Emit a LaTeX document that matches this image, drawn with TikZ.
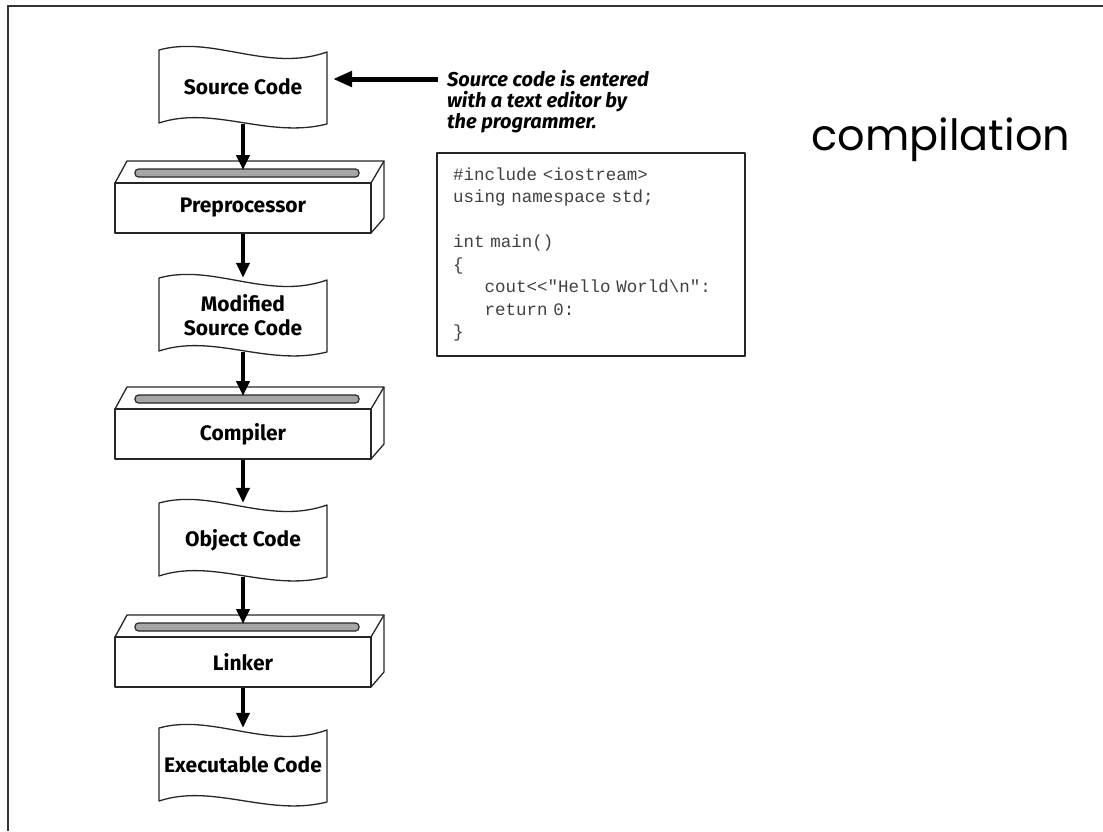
\documentclass[tikz,border=0pt]{standalone}
\usepackage{fontspec}
\usetikzlibrary{arrows.meta}

\newfontfamily\etiqueta{Fira Sans}
\newfontfamily\codigo{Liberation Mono}
\newfontfamily\titulo{Poppins}
\DeclareRobustCommand{\fuentecodigo}{\codigo\fontsize{17.5}{22.5}\selectfont\spaceskip=10.5pt\relax}

\tikzset{
  contorno/.style={draw=black!85, line width=1.3pt, line join=round},
  ranura/.style={draw=black!85, line width=1.2pt, fill=black!35, rounded corners=3.5pt},
  hojatxt/.style={font=\etiqueta\bfseries\fontsize{21}{24}\selectfont, align=center,
                  minimum width=168pt, minimum height=74pt, inner sep=0pt},
  cajatxt/.style={contorno, font=\etiqueta\bfseries\fontsize{21}{24}\selectfont,
                  minimum width=256pt, minimum height=50pt, inner sep=0pt},
  flecha/.style={line width=4pt, -{Triangle[length=15pt,width=13pt]}},
  flechaH/.style={line width=5pt, -{Triangle[length=19pt,width=15pt]}},
  marco/.style={draw=black!80, line width=2pt},
}

% Hoja con bordes ondulados, centrada en (x,y)
\newcommand{\hoja}[2]{%
  \draw[contorno, shift={(#1,#2)}]
    (-84,-37) .. controls (-30,-52) and (25,-14) .. (84,-35)
    -- (84,37) .. controls (25,52) and (-30,18) .. (-84,36) -- cycle;}

% Caja en perspectiva con ranura, cara frontal centrada en (243,y)
\newcommand{\caja}[1]{%
  \begin{scope}[shift={(243,#1)}]
    \draw[contorno] (-128,-25) -- (-116,-47) -- (141,-47) -- (128,-25);
    \draw[contorno] (141,-47) -- (141,10) -- (128,25);
    \draw[ranura] (-108,-39) rectangle (116,-31);
  \end{scope}}

\begin{document}
\begin{tikzpicture}[x=1pt, y=-1pt]
        \useasboundingbox (0,0) rectangle (1103,831);

        % Paso 1: Marco superior e izquierdo
        \draw[marco] (8,831) -- (8,6) -- (1103,6);

        % Paso 2: Dibuja las hojas (codigo fuente, objeto, ejecutable)
        \hoja{243}{87}
        \hoja{243}{315}
        \hoja{243}{540}
        \hoja{243}{765}

        % Paso 3: Dibuja las cajas (preprocesador, compilador, enlazador)
        \caja{208}
        \caja{434}
        \caja{662}

        % Paso 4: Nodos con los textos de cada etapa
        \node[hojatxt] (fuente) at (243,87) {Source Code};
        \node[cajatxt] (pre) at (243,208) {Preprocessor};
        \node[hojatxt] (modificado) at (243,315) {Modified\\Source Code};
        \node[cajatxt] (comp) at (243,434) {Compiler};
        \node[hojatxt] (objeto) at (243,540) {Object Code};
        \node[cajatxt] (enlaz) at (243,662) {Linker};
        \node[hojatxt] (ejec) at (243,765) {Executable Code};

        % Paso 5: Puntos de llegada en las ranuras
        \coordinate (ranura-pre) at (243,170);
        \coordinate (ranura-comp) at (243,396);
        \coordinate (ranura-enlaz) at (243,624);

        % Paso 6: Flechas verticales entre etapas
        \draw[flecha] (fuente) -- (ranura-pre);
        \draw[flecha] (pre) -- (modificado.north);
        \draw[flecha] (modificado) -- (ranura-comp);
        \draw[flecha] (comp) -- (objeto.north);
        \draw[flecha] (objeto) -- (ranura-enlaz);
        \draw[flecha] (enlaz) -- (ejec.north);

        % Paso 7: Nota sobre el editor y su flecha
        \node[anchor=north west, align=left, inner sep=0pt,
              font=\etiqueta\bfseries\itshape\fontsize{20}{21}\selectfont] (nota) at (447,70)
              {Source code is entered\\with a text editor by\\the programmer.};
        \coordinate (nota-inicio) at (438,79);
        \coordinate (nota-fin) at (333,79);
        \draw[flechaH] (nota-inicio) -- (nota-fin);

        % Paso 8: Recuadro con el programa
        \node[contorno, line width=1.5pt, text=black!75, align=left,
              minimum width=308pt, minimum height=203pt, text width=276pt,
              inner xsep=16pt, inner ysep=0pt,
              font=\fuentecodigo] (programa) at (591,254.5)
              {\#include <iostream>\\
               using namespace std;\\
               \mbox{}\\
               int main()\\
               \{\\
               \hphantom{xxx}cout<{}<"Hello World\textbackslash n":\\
               \hphantom{xxx}return 0:\\
               \}};

        % Paso 9: Titulo
        \node[font=\titulo\fontsize{43}{50}\selectfont] (titulo) at (941,140) {compilation};
\end{tikzpicture}
\end{document}
